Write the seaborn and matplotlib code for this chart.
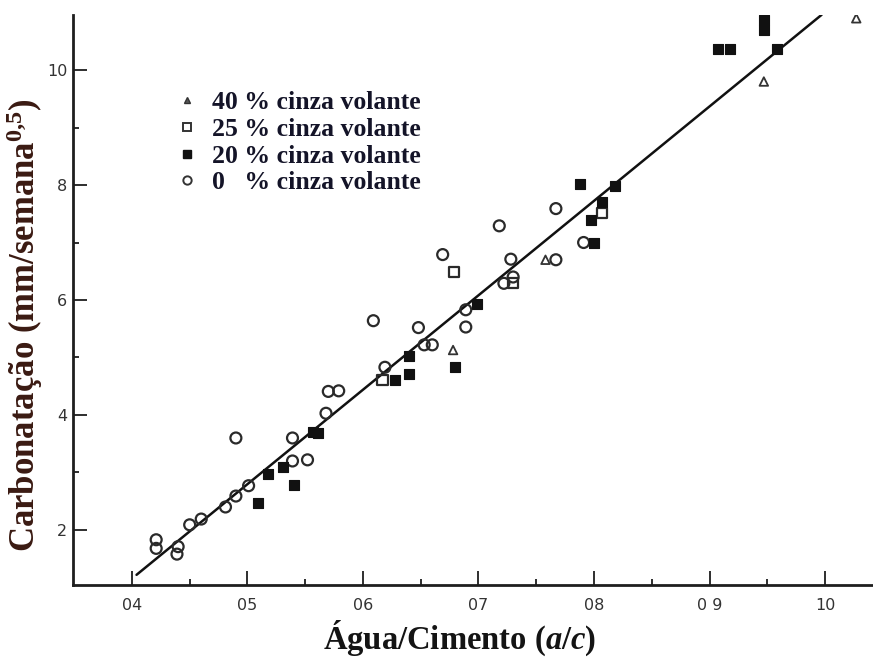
import numpy as np
import pandas as pd
import matplotlib
matplotlib.use("Agg")
import matplotlib.pyplot as plt
import seaborn as sns
from matplotlib.lines import Line2D

# ---------------- data ----------------
# 0 % cinza volante (open circles)
x_0 = [0.421, 0.421, 0.440, 0.439, 0.450, 0.460, 0.481, 0.490, 0.490, 0.501,
       0.539, 0.539, 0.552, 0.568, 0.570, 0.579, 0.609, 0.619, 0.648, 0.653,
       0.660, 0.669, 0.689, 0.689, 0.718, 0.722, 0.730, 0.728, 0.767, 0.767,
       0.791]
y_0 = [1.83, 1.68, 1.71, 1.58, 2.09, 2.19, 2.40, 2.59, 3.60, 2.77,
       3.20, 3.60, 3.22, 4.03, 4.41, 4.42, 5.64, 4.83, 5.52, 5.22,
       5.22, 6.79, 5.83, 5.53, 7.29, 6.29, 6.40, 6.71, 6.70, 7.59,
       7.00]

# 20 % cinza volante (filled squares)
x_20 = [0.509, 0.518, 0.531, 0.540, 0.557, 0.561, 0.628, 0.640, 0.640, 0.680,
        0.699, 0.788, 0.818, 0.807, 0.797, 0.800, 0.907, 0.918, 0.947, 0.947,
        0.958]
y_20 = [2.47, 2.97, 3.10, 2.79, 3.71, 3.69, 4.61, 4.72, 5.03, 4.83,
        5.93, 8.02, 7.98, 7.70, 7.40, 7.00, 10.36, 10.36, 10.87, 10.70,
        10.36]

# 25 % cinza volante (open squares)
x_25 = [0.617, 0.679, 0.730, 0.807]
y_25 = [4.61, 6.49, 6.29, 7.51]

# 40 % cinza volante (open triangles)
x_40 = [0.678, 0.758, 0.947, 1.027]
y_40 = [5.13, 6.70, 9.80, 10.90]

# fitted line (end points)
fit_x = [0.404, 0.997]
fit_y = [1.22, 10.96]

x_ticks = [0.4, 0.5, 0.6, 0.7, 0.8, 0.9, 1.0]
x_ticklabels = ["04", "05", "06", "07", "08", "0 9", "10"]
y_ticks = [2, 4, 6, 8, 10]
y_ticklabels = ["2", "4", "6", "8", "10"]

legend_labels = ["40 % cinza volante", "25 % cinza volante",
                 "20 % cinza volante", "0   % cinza volante"]

# ---------------- style ----------------
sns.set_style("ticks")
plt.rcParams["font.family"] = ["DejaVu Sans"]
plt.rcParams["mathtext.fontset"] = "custom"
plt.rcParams["mathtext.rm"] = "Liberation Serif:bold"
plt.rcParams["mathtext.it"] = "Liberation Serif:italic:bold"
plt.rcParams["mathtext.bf"] = "Liberation Serif:bold"

ink = "#1e1e1e"

fig = plt.figure(figsize=(8.73, 6.57), dpi=100)
ax = fig.add_axes([73 / 873, 1 - 585 / 657, 800 / 873, 570 / 657])

sns.lineplot(x=fit_x, y=fit_y, ax=ax, color="#111111", linewidth=1.8)

sns.scatterplot(x=x_0, y=y_0, ax=ax, marker="o", s=62, facecolor="none",
                edgecolor="#2a2a2a", linewidth=1.6, zorder=3)
sns.scatterplot(x=x_25, y=y_25, ax=ax, marker="s", s=55, facecolor="none",
                edgecolor="#2a2a2a", linewidth=1.6, zorder=3)
sns.scatterplot(x=x_20, y=y_20, ax=ax, marker="s", s=60, color="#111111",
                edgecolor="#111111", linewidth=0.8, zorder=3)
sns.scatterplot(x=x_40, y=y_40, ax=ax, marker="^", s=38, facecolor="none",
                edgecolor="#333333", linewidth=1.3, zorder=3)

ax.set_xlim(0.349, 1.0415)
ax.set_ylim(1.043, 10.957)

ax.set_xticks(x_ticks)
ax.set_xticklabels(x_ticklabels)
ax.set_xticks([0.45, 0.55, 0.65, 0.75, 0.85, 0.95], minor=True)
ax.set_yticks(y_ticks)
ax.set_yticklabels(y_ticklabels)
ax.set_yticks([3, 5, 7, 9], minor=True)

ax.tick_params(which="major", direction="in", length=10, width=1.3,
               colors=ink, labelsize=11.5, labelcolor="#333333")
ax.tick_params(which="minor", direction="in", length=4, width=1.3, colors=ink)
ax.tick_params(axis="x", which="major", pad=9)
ax.tick_params(axis="y", which="major", pad=4)

sns.despine(ax=ax)
for side in ("left", "bottom"):
    ax.spines[side].set_linewidth(2.0)
    ax.spines[side].set_color(ink)

ax.set_xlabel(r"Água/Cimento ($\it{a/c}$)", fontsize=23.5,
              fontfamily="Liberation Serif", fontweight="bold",
              color="#141414")
ax.xaxis.set_label_coords(0.483, -0.058)
ax.set_ylabel(r"Carbonatação (mm/semana$^{\mathbf{0{,}5}}$)", fontsize=25,
              fontfamily="Liberation Serif", fontweight="bold",
              color="#3a1a12")
ax.yaxis.set_label_coords(-0.035, 0.456)

handles = [
    Line2D([], [], linestyle="none", marker="^", markersize=5,
           markerfacecolor="#555555", markeredgecolor="#333333", markeredgewidth=1.0),
    Line2D([], [], linestyle="none", marker="s", markersize=6,
           markerfacecolor="none", markeredgecolor="#333333", markeredgewidth=1.4),
    Line2D([], [], linestyle="none", marker="s", markersize=6,
           markerfacecolor="#111111", markeredgecolor="#111111"),
    Line2D([], [], linestyle="none", marker="o", markersize=6,
           markerfacecolor="none", markeredgecolor="#333333", markeredgewidth=1.4),
]
leg = ax.legend(handles, legend_labels, loc="upper left",
                bbox_to_anchor=(0.126, 0.866), frameon=False,
                borderpad=0, borderaxespad=0, handlelength=1.0,
                handletextpad=0.5, labelspacing=0.14,
                prop={"family": "Liberation Serif", "weight": "bold", "size": 18.5})
for t in leg.get_texts():
    t.set_color("#141428")

fig.savefig("out.png", dpi=100)
